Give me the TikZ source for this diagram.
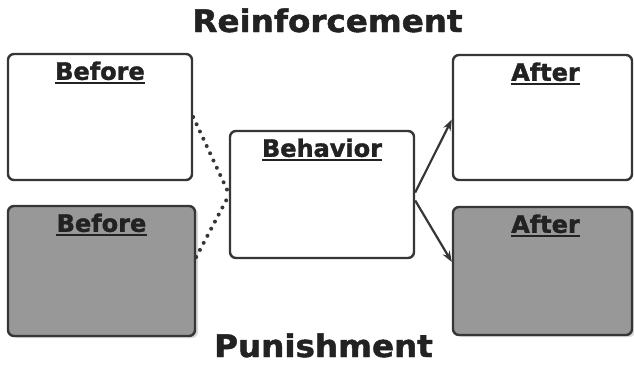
\documentclass[tikz,border=0pt]{standalone}
\usepackage{fontspec}
\setmainfont{DejaVu Sans}[BoldFeatures={FakeBold=1.5}]
\usetikzlibrary{arrows.meta,shadows}
\definecolor{edge}{HTML}{363636}
\definecolor{shade}{HTML}{989898}
\definecolor{ink}{HTML}{222222}
\tikzset{
 box/.style={draw=edge, line width=2.4pt, rounded corners=6pt, fill=white, inner sep=0pt},
 graybox/.style={box, fill=shade, drop shadow={shadow xshift=3pt, shadow yshift=-2pt, fill=gray!50, opacity=0.6}},
 lbl/.style={inner sep=0pt, anchor=base, text=ink, font=\fontsize{24}{28}\selectfont\bfseries},
 title/.style={inner sep=0pt, anchor=base, text=ink, font=\fontsize{31}{36}\selectfont\bfseries},
 ul/.style={draw=ink, line width=2.2pt},
 dotline/.style={draw=edge, line width=4pt, line cap=round, dash pattern=on 0pt off 8pt},
 conn/.style={draw=edge, line width=2.2pt, -{Stealth[length=11pt,width=8pt]}},
}
\begin{document}
\begin{tikzpicture}[x=1pt,y=-1pt]
\useasboundingbox (0,0) rectangle (634,364);
% titles
\node[title] (reinf) at (327.5,32) {\scalebox{1.05}[1]{Reinforcement}};
\node[title] (punish) at (323.5,357) {\scalebox{1.05}[1]{Punishment}};
% boxes
\node[box, minimum width=184pt, minimum height=126pt] (b1) at (100,117) {};
\node[graybox, minimum width=187pt, minimum height=130pt] (b2) at (101.5,271) {};
\node[box, minimum width=184pt, minimum height=127pt] (beh) at (322,194.5) {};
\node[box, minimum width=179pt, minimum height=125pt] (a1) at (542.5,117.5) {};
\node[graybox, minimum width=179pt, minimum height=128pt] (a2) at (542.5,271) {};
% labels
\node[lbl] (t1) at ([yshift=-27pt]b1.north) {Before};
\node[lbl] (t2) at ([yshift=-27pt]b2.north) {Before};
\node[lbl] (t3) at ([yshift=-27pt]beh.north) {Behavior};
\node[lbl] (t4) at ([yshift=-27pt,xshift=3pt]a1.north) {After};
\node[lbl] (t5) at ([yshift=-27pt,xshift=3pt]a2.north) {After};
\foreach \t in {t1,t2,t3,t4,t5}
  \draw[ul] ([yshift=-3.5pt]\t.base west) -- ([yshift=-3.5pt]\t.base east);
% connectors
\draw[dotline] (b1.east) -- ([yshift=1pt]beh.west);
\draw[dotline] ([yshift=14pt]b2.east) -- ([yshift=-1pt]beh.west);
\draw[conn] ([yshift=2pt]beh.east) -- ([yshift=-2pt]a1.west);
\draw[conn] ([yshift=-6pt]beh.east) -- ([yshift=9pt]a2.west);
\end{tikzpicture}
\end{document}
